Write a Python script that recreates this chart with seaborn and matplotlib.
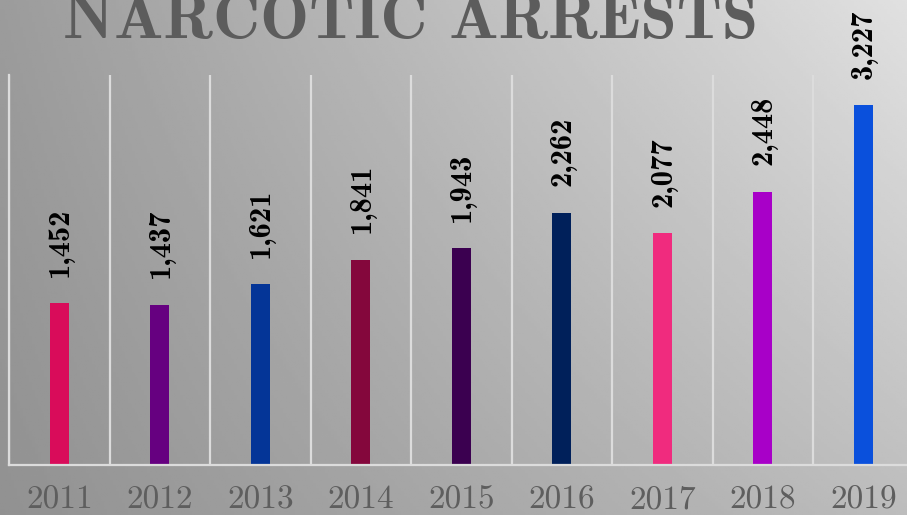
import numpy as np
import pandas as pd
import matplotlib
matplotlib.use('Agg')
import matplotlib.pyplot as plt
import seaborn as sns

# data
years = ['2011', '2012', '2013', '2014', '2015', '2016', '2017', '2018', '2019']
arrests = [1452, 1437, 1621, 1841, 1943, 2262, 2077, 2448, 3227]
bar_colors = ['#d90c5a', '#660080', '#043597', '#84073c', '#3b0050',
              '#00205a', '#f02b7e', '#a800c8', '#0a50dc']

df = pd.DataFrame({'Year': years, 'Arrests': arrests})

sns.set_theme(style='white')

fig = plt.figure(figsize=(9.07, 5.15), dpi=100)

# gray gradient background
bg = fig.add_axes([0, 0, 1, 1], zorder=-1)
gx, gy = np.meshgrid(np.linspace(0, 1, 300), np.linspace(0, 1, 200))
# gy = 0 at top
grad = 0.61 + 0.27 * gx - 0.04 * gy - 0.10 * gx * gy
bg.imshow(grad, cmap='gray', vmin=0, vmax=1, aspect='auto', extent=[0, 1, 0, 1])
bg.axis('off')

ax = fig.add_axes([9 / 907, 50 / 515, 904.5 / 907, 390 / 515])
ax.set_facecolor('none')

sns.barplot(data=df, x='Year', y='Arrests', hue='Year', palette=bar_colors,
            width=0.19, legend=False, ax=ax, saturation=1, linewidth=0)

ax.set_xlim(-0.5, 8.5)
ax.set_ylim(0, 3495)

# vertical white grid between categories
ax.set_xticks(np.arange(-0.5, len(years)), minor=True)
ax.grid(True, which='minor', axis='x', color='#dcdcdc', linewidth=1.6)
ax.grid(False, which='major')
ax.tick_params(axis='x', which='both', length=0)
ax.set_yticks([])

for s in ['top', 'right']:
    ax.spines[s].set_visible(False)
ax.spines['left'].set_color('#dcdcdc')
ax.spines['bottom'].set_color('#dcdcdc')
ax.spines['left'].set_linewidth(1.6)
ax.spines['bottom'].set_linewidth(1.6)

ax.set_xlabel('')
ax.set_ylabel('')
for lab in ax.get_xticklabels():
    lab.set_fontfamily('cmr10')
    lab.set_fontsize(24)
    lab.set_color('#5e5e5e')
ax.tick_params(axis='x', pad=15)

# value labels
for i, v in enumerate(arrests):
    ax.annotate(f'{v:,}', (i, v), xytext=(1, 19), textcoords='offset points',
                rotation=90, ha='center', va='bottom',
                fontfamily='cmb10', fontsize=22, color='black')

fig.text(0.453, (515 - 38) / 515, 'NARCOTIC ARRESTS', ha='center', va='baseline',
         fontfamily='cmb10', fontsize=47, color='#5c5c5c')

fig.savefig('out.png', dpi=100)
